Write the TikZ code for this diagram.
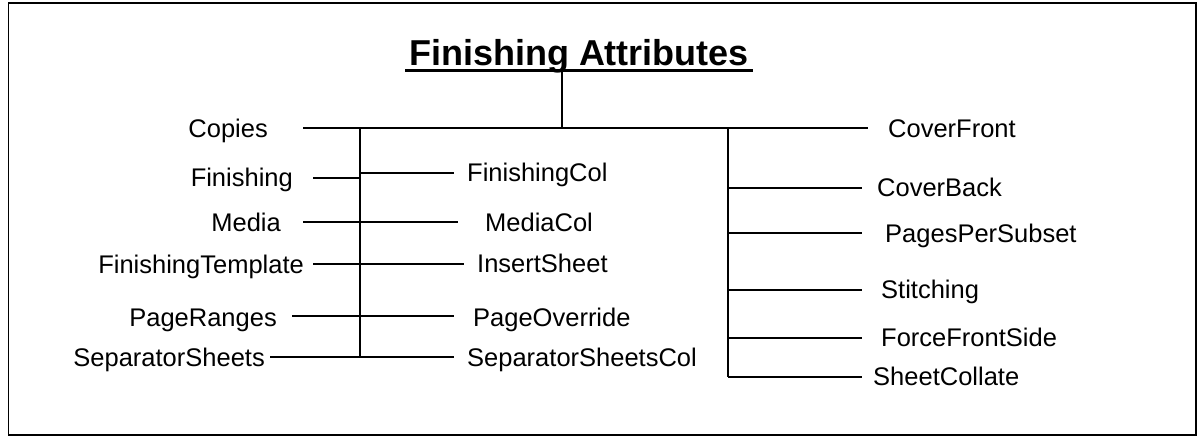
\documentclass[tikz,border=0pt]{standalone}
\usepackage{fontspec}
\setmainfont{Liberation Sans}
\begin{document}
\begin{tikzpicture}[x=1pt,y=-1pt,
  lab/.style={inner sep=0pt, text height=18.3pt, text depth=0pt, font=\fontsize{25.5pt}{30pt}\selectfont},
  ln/.style={line width=2pt},
  thin/.style={line width=1.5pt},
  frame/.style={line width=1.7pt}
]
\useasboundingbox (0,0) rectangle (1197,437);
\draw[frame] (8.5,3) rectangle (1196.2,435.3);

% title
\node[inner sep=0pt, anchor=base, font=\fontsize{36pt}{40pt}\selectfont\bfseries] (title) at (579,65) {Finishing Attributes};
\draw[line width=3pt] (405,70) -- (753,70);
\coordinate (tv) at (562,70);
\coordinate (jm) at (562,128);
\draw[thin] (tv) -- (jm);

% junctions
\coordinate (vl0) at (360,128);
\coordinate (vl1) at (360,357);
\coordinate (vr0) at (728,128);
\coordinate (vr1) at (728,377);
\draw[ln] (vl0) -- (vl1);
\draw[ln] (vr0) -- (vr1);

% main horizontal
\node[lab, anchor=east] (copies) at (268,128) {Copies};
\node[lab, anchor=west] (coverfront) at (888,128) {CoverFront};
\coordinate (mL) at (303,128);
\coordinate (mR) at (868,128);
\draw[ln] (mL) -- (mR);

% left labels
\node[lab, anchor=east] (finishing) at (293,177) {Finishing};
\node[lab, anchor=east] (media) at (281,222) {Media};
\node[lab, anchor=east] (ftemplate) at (304,264) {FinishingTemplate};
\node[lab, anchor=east] (pageranges) at (277,317) {PageRanges};
\node[lab, anchor=east] (sepsheets) at (265,357) {SeparatorSheets};

\coordinate (fL) at (313,178);  \coordinate (fJ) at (360,178);
\coordinate (mdL) at (303,222); \coordinate (mdJ) at (360,222);
\coordinate (ftL) at (313,264); \coordinate (ftJ) at (360,264);
\coordinate (prL) at (292,316); \coordinate (prJ) at (360,316);
\coordinate (ssL) at (270,357); \coordinate (ssJ) at (360,357);
\draw[ln] (fL) -- (fJ);
\draw[ln] (mdL) -- (mdJ);
\draw[ln] (ftL) -- (ftJ);
\draw[ln] (prL) -- (prJ);
\draw[ln] (ssL) -- (ssJ);

% middle labels
\node[lab, anchor=west] (fcol) at (467,172) {FinishingCol};
\node[lab, anchor=west] (mcol) at (485,222) {MediaCol};
\node[lab, anchor=west] (insert) at (477,263) {InsertSheet};
\node[lab, anchor=west] (override) at (473,317) {PageOverride};
\node[lab, anchor=west] (sscol) at (467,357) {SeparatorSheetsCol};

\coordinate (fcJ) at (360,173);  \coordinate (fcR) at (454,173);
\coordinate (mcR) at (458,222);
\coordinate (isR) at (464,264);
\coordinate (poR) at (454,316);
\coordinate (scR) at (454,357);
\draw[ln] (fcJ) -- (fcR);
\draw[ln] (mdJ) -- (mcR);
\draw[ln] (ftJ) -- (isR);
\draw[ln] (prJ) -- (poR);
\draw[ln] (ssJ) -- (scR);

% right labels
\node[lab, anchor=west] (coverback) at (877,187) {CoverBack};
\node[lab, anchor=west] (pps) at (885,233) {PagesPerSubset};
\node[lab, anchor=west] (stitching) at (881,289) {Stitching};
\node[lab, anchor=west] (ffs) at (881,337) {ForceFrontSide};
\node[lab, anchor=west] (sheetcollate) at (873,376) {SheetCollate};

\coordinate (cbJ) at (728,188); \coordinate (cbR) at (862,188);
\coordinate (ppJ) at (728,233); \coordinate (ppR) at (862,233);
\coordinate (stJ) at (728,290); \coordinate (stR) at (862,290);
\coordinate (ffJ) at (728,338); \coordinate (ffR) at (862,338);
\coordinate (scJ) at (728,377); \coordinate (scR2) at (862,377);
\draw[ln] (cbJ) -- (cbR);
\draw[ln] (ppJ) -- (ppR);
\draw[ln] (stJ) -- (stR);
\draw[ln] (ffJ) -- (ffR);
\draw[ln] (scJ) -- (scR2);
\end{tikzpicture}
\end{document}
